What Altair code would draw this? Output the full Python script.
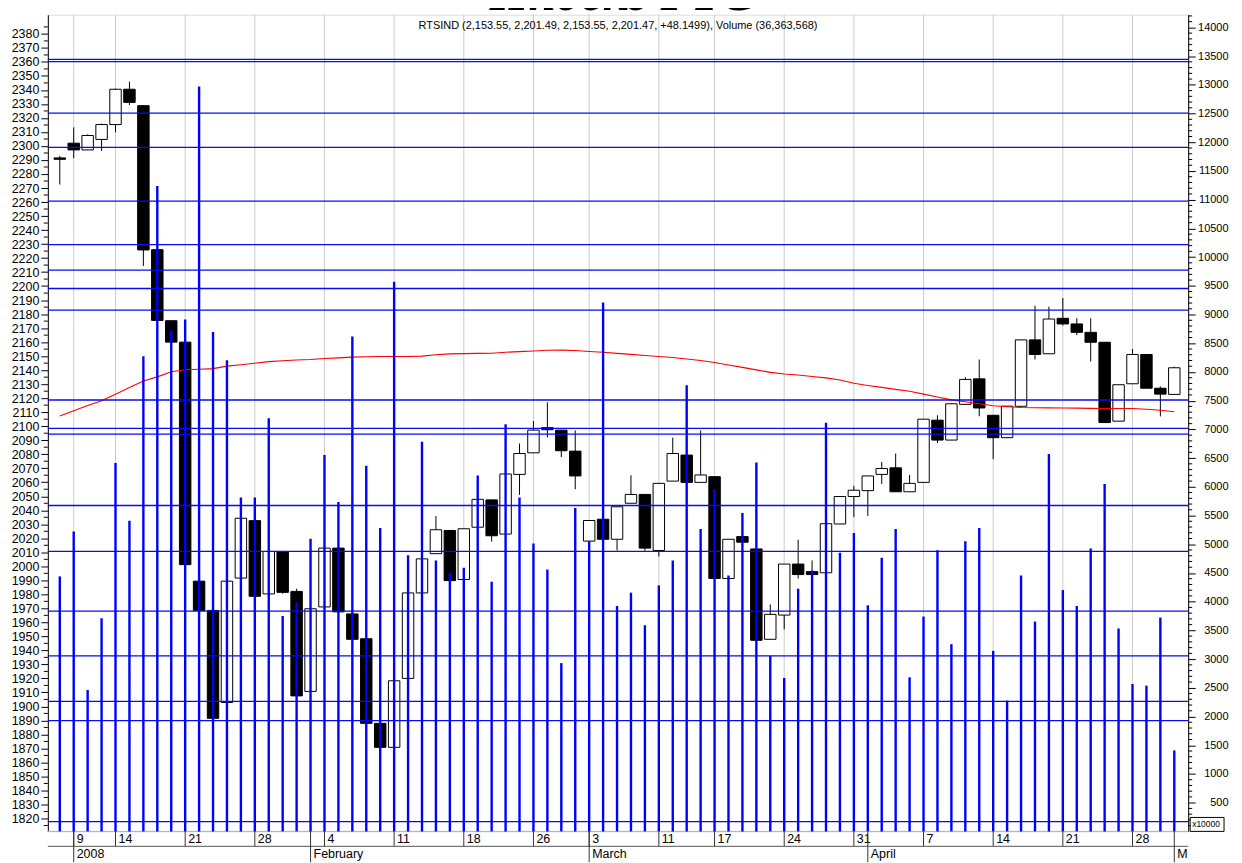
import altair as alt
import pandas as pd

# ---------------- data ----------------
dates = ["2007-12-28",
         "2008-01-09", "2008-01-10", "2008-01-11",
         "2008-01-14", "2008-01-15", "2008-01-16", "2008-01-17", "2008-01-18",
         "2008-01-21", "2008-01-22", "2008-01-23", "2008-01-24", "2008-01-25",
         "2008-01-28", "2008-01-29", "2008-01-30", "2008-01-31", "2008-02-01",
         "2008-02-04", "2008-02-05", "2008-02-06", "2008-02-07", "2008-02-08",
         "2008-02-11", "2008-02-12", "2008-02-13", "2008-02-14", "2008-02-15",
         "2008-02-18", "2008-02-19", "2008-02-20", "2008-02-21", "2008-02-22",
         "2008-02-26", "2008-02-27", "2008-02-28", "2008-02-29",
         "2008-03-03", "2008-03-04", "2008-03-05", "2008-03-06", "2008-03-07",
         "2008-03-11", "2008-03-12", "2008-03-13", "2008-03-14",
         "2008-03-17", "2008-03-18", "2008-03-19", "2008-03-20", "2008-03-21",
         "2008-03-24", "2008-03-25", "2008-03-26", "2008-03-27", "2008-03-28",
         "2008-03-31", "2008-04-01", "2008-04-02", "2008-04-03", "2008-04-04",
         "2008-04-07", "2008-04-08", "2008-04-09", "2008-04-10", "2008-04-11",
         "2008-04-14", "2008-04-15", "2008-04-16", "2008-04-17", "2008-04-18",
         "2008-04-21", "2008-04-22", "2008-04-23", "2008-04-24", "2008-04-25",
         "2008-04-28", "2008-04-29", "2008-04-30",
         "2008-05-05"]

opens = [2291.5, 2302.0, 2297.2, 2304.7, 2315.3, 2340.5, 2328.8, 2226.0, 2175.3, 2160.0,
         1989.4, 1968.5, 1902.8, 1991.6, 2032.6, 1980.3, 2010.6, 1982.1, 1910.7, 1971.0,
         2013.0, 1966.0, 1948.3, 1887.9, 1870.8, 1920.0, 1981.0, 2009.0, 2025.6, 1990.6,
         2027.9, 2047.4, 2023.0, 2065.6, 2081.0, 2099.0, 2097.2, 2082.2, 2018.0, 2033.6,
         2019.3, 2045.0, 2051.3, 2011.3, 2060.8, 2079.4, 2059.9, 2064.0, 1991.3, 2021.2,
         2012.4, 1947.9, 1965.2, 2001.6, 1996.2, 1995.4, 2030.2, 2049.8, 2054.0, 2065.6,
         2070.3, 2053.2, 2059.9, 2104.3, 2090.1, 2115.6, 2133.8, 2107.8, 2091.8, 2114.2,
         2161.6, 2151.7, 2177.0, 2173.0, 2167.0, 2159.9, 2103.6, 2130.3, 2151.2, 2127.1,
         2122.7]

highs = [2293.0, 2313.3, 2308.3, 2316.0, 2341.0, 2345.9, 2328.8, 2226.0, 2175.3, 2160.0,
         1989.4, 1968.5, 1989.4, 2034.3, 2032.6, 2010.6, 2010.6, 1984.0, 1969.7, 2013.0,
         2013.0, 1966.0, 1948.3, 1887.9, 1918.3, 1981.0, 2005.3, 2035.9, 2025.6, 2026.8,
         2047.8, 2047.4, 2065.9, 2087.6, 2103.7, 2117.0, 2097.2, 2097.0, 2032.7, 2033.6,
         2042.5, 2065.0, 2051.3, 2059.2, 2091.8, 2079.4, 2097.0, 2064.0, 2019.3, 2021.2,
         2012.4, 1972.8, 2001.6, 2019.0, 2004.2, 2030.4, 2049.8, 2057.4, 2064.5, 2074.5,
         2080.5, 2065.2, 2105.0, 2107.8, 2116.0, 2135.0, 2147.6, 2107.8, 2114.3, 2161.6,
         2186.0, 2185.3, 2191.5, 2177.1, 2177.0, 2159.9, 2129.6, 2155.1, 2151.2, 2128.4,
         2142.5]

lows = [2272.5, 2291.3, 2297.2, 2296.5, 2309.7, 2329.3, 2214.4, 2175.5, 2160.0, 2001.2,
        1968.5, 1891.5, 1902.8, 1991.6, 1978.6, 1980.3, 1980.4, 1907.5, 1910.7, 1971.0,
        1967.5, 1947.9, 1887.9, 1870.8, 1870.8, 1920.0, 1981.0, 2009.0, 1989.8, 1990.6,
        2027.9, 2017.7, 2023.0, 2051.0, 2081.0, 2092.0, 2078.0, 2055.0, 2018.0, 2019.3,
        2011.3, 2045.0, 2011.0, 2007.0, 2060.8, 2059.9, 2059.9, 1991.3, 1991.3, 2017.2,
        1947.2, 1947.9, 1955.0, 1991.3, 1994.1, 1995.4, 2030.2, 2035.1, 2036.0, 2058.8,
        2053.2, 2053.2, 2059.9, 2088.0, 2090.1, 2115.6, 2107.1, 2076.5, 2091.8, 2114.2,
        2147.6, 2151.7, 2171.8, 2165.0, 2146.2, 2102.6, 2103.6, 2130.3, 2127.1, 2107.0,
        2122.7]

closes = [2290.5, 2297.2, 2307.5, 2315.3, 2340.5, 2331.1, 2225.8, 2175.5, 2160.0, 2001.2,
          1968.5, 1891.5, 1989.4, 2034.3, 1978.6, 2010.6, 1981.4, 1907.5, 1969.7, 2013.0,
          1967.5, 1947.9, 1887.9, 1870.8, 1918.3, 1981.0, 2005.3, 2026.1, 1989.8, 2026.8,
          2047.8, 2021.8, 2065.9, 2080.5, 2097.2, 2097.5, 2082.5, 2064.5, 2032.7, 2019.3,
          2042.5, 2051.3, 2013.0, 2059.2, 2080.5, 2059.9, 2065.2, 1991.3, 2019.3, 2017.2,
          1947.2, 1965.7, 2001.6, 1994.1, 1994.1, 2030.4, 2049.8, 2054.3, 2064.5, 2069.8,
          2053.2, 2059.2, 2105.0, 2090.1, 2116.0, 2133.4, 2113.0, 2091.8, 2114.3, 2161.6,
          2151.2, 2176.5, 2173.0, 2167.0, 2159.9, 2102.6, 2129.6, 2151.2, 2127.1, 2122.9,
          2141.7]

# volume in units of 10,000
volumes = [4440, 5220, 2463, 3711, 6417, 5411, 8273, 11238, 8724, 8914,
           12973, 8694, 8203, 5815, 5815, 7192, 3751, 3984, 5094, 6556,
           5735, 8619, 6365, 5284, 9573, 4809, 6786, 4717, 4504, 4591,
           6197, 4348, 7088, 5815, 5012, 4561, 2931, 5631, 5052, 9209,
           3925, 4157, 3590, 4284, 4717, 7770, 5267, 5961, 4457, 5545,
           6422, 3058, 2671, 4226, 4544, 7116, 4851, 5198, 3937, 4764,
           5267, 2683, 3741, 4896, 3260, 5052, 5284, 3144, 2277, 4457,
           3654, 6573, 4202, 3925, 4925, 6047, 3533, 2567, 2538, 3723,
           1410]

moving_avg = [2107.3, 2111.0, 2114.7, 2118.2, 2122.8, 2127.6, 2132.3, 2135.2, 2138.9, 2140.3,
              2140.7, 2141.1, 2142.9, 2143.9, 2144.9, 2146.1, 2146.7, 2147.2, 2147.6, 2148.3,
              2148.8, 2149.3, 2149.6, 2149.7, 2149.8, 2149.8, 2150.0, 2151.0, 2151.6, 2151.8,
              2152.0, 2152.1, 2152.8, 2153.2, 2153.7, 2154.2, 2154.3, 2154.0, 2153.3, 2152.8,
              2152.0, 2151.3, 2150.5, 2149.8, 2149.0, 2148.0, 2146.9, 2145.5, 2143.7, 2142.0,
              2140.2, 2138.4, 2137.3, 2136.6, 2135.5, 2134.5, 2133.0, 2130.6, 2129.1, 2127.7,
              2126.3, 2124.9, 2122.9, 2120.8, 2118.8, 2117.4, 2116.0, 2114.6, 2113.9, 2113.4,
              2113.2, 2113.1, 2113.0, 2112.9, 2112.7, 2112.6, 2112.6, 2112.6, 2112.1, 2111.4,
              2110.3]

price_levels = [2361.8, 2360.2, 2323.4, 2299.0, 2260.6, 2229.6, 2211.4, 2198.3, 2182.9,
                2118.7, 2098.4, 2094.3, 2043.4, 2010.7, 1968.0, 1936.1, 1903.6, 1889.9,
                1817.7]

week_tick_idx = [1, 4, 9, 14, 19, 24, 29, 34, 38, 43, 47, 52, 57, 62, 67, 72, 77]
week_tick_labels = ["9", "14", "21", "28", "4", "11", "18", "26", "3", "11", "17",
                    "24", "31", "7", "14", "21", "28"]
month_tick_idx = [1, 18, 38, 58, 80]
month_tick_labels = ["2008", "February", "March", "April", "May"]

price_tick_values = list(range(1820, 2381, 10))
price_minor_values = [v for v in range(1815, 2391, 5) if v % 10 != 0]
vol_tick_values = list(range(500, 14001, 500))
vol_minor_values = [v for v in range(100, 14201, 100) if v % 500 != 0]

chart_title = "Индекс РТС"
subtitle = "RTSIND (2,153.55, 2,201.49, 2,153.55, 2,201.47, +48.1499), Volume (36,363,568)"

n = len(dates)
assert all(len(a) == n for a in [opens, highs, lows, closes, volumes, moving_avg])

# ---------------- tables ----------------
df = pd.DataFrame({
    "idx": list(range(n)), "date": dates, "open": opens, "high": highs,
    "low": lows, "close": closes, "volume": volumes, "ma": moving_avg,
})
weeks = pd.DataFrame({"idx": week_tick_idx, "label": week_tick_labels})
months = pd.DataFrame({"idx": month_tick_idx, "label": month_tick_labels})
levels = pd.DataFrame({"level": price_levels})
pminor = pd.DataFrame({"v": price_minor_values})
vminor = pd.DataFrame({"v": vol_minor_values})

W, H = 1145, 820
FONT = "Liberation Sans"

xs = alt.Scale(domain=[-0.5, 80.64], nice=False, zero=False)
ps = alt.Scale(domain=[1810.8, 2393.7], nice=False, zero=False)
vs = alt.Scale(domain=[0, 14221], nice=False, zero=False)

price_axis = alt.Axis(orient="left", values=price_tick_values, title=None, grid=False,
                      format="d",
                      tickSize=7, tickColor="black", domainColor="black",
                      labelFont=FONT, labelFontSize=12.5, labelColor="black",
                      labelPadding=2, labelOverlap=False, labelFlush=False)
vol_axis = alt.Axis(orient="right", values=vol_tick_values, title=None, grid=False,
                    format="d",
                    tickSize=7, tickColor="black", domainColor="black",
                    labelFont=FONT, labelFontSize=11, labelColor="black",
                    labelAlign="right", labelPadding=33, labelOverlap=False,
                    labelFlush=False)


def X(field):
    return alt.X(field, type="quantitative", scale=xs, axis=None)


def PY(field):
    return alt.Y(field, type="quantitative", scale=ps, axis=price_axis)


base = alt.Chart(df)

grid = alt.Chart(weeks).mark_rule(color="#cccccc", strokeWidth=1).encode(x=X("idx"))

bottom_line = alt.Chart(levels.head(1)).mark_rule(color="#b0b0b0").encode(
    x=alt.value(0), x2=alt.value(W), y=alt.value(H))

wicks = base.mark_rule(color="black", strokeWidth=1).encode(
    x=X("idx"), y=PY("low"), y2="high")

bodies = base.mark_bar(size=11.5, stroke="black", strokeWidth=1).encode(
    x=X("idx"), y=PY("open"), y2="close",
    fill=alt.condition("datum.close >= datum.open", alt.value("white"), alt.value("black")))

ma_line = base.mark_line(color="#ff0000", strokeWidth=1.1).encode(
    x=X("idx"), y=PY("ma"))

level_lines = alt.Chart(levels).mark_rule(color="#0a0af5", strokeWidth=1.3).encode(
    y=PY("level"))

price_minor = alt.Chart(pminor).mark_rule(color="black").encode(
    y=PY("v"), x=alt.value(-4), x2=alt.value(0))

# x-axis rows drawn below the plot
week_ticks = alt.Chart(weeks).mark_rule(color="#333333").encode(
    x=X("idx"), y=alt.value(H), y2=alt.value(H + 15))
week_labels = alt.Chart(weeks).mark_text(
    align="left", baseline="middle", dx=3, font=FONT, fontSize=12.5, color="black").encode(
    x=X("idx"), y=alt.value(H + 8), text="label")
separator = alt.Chart(levels.head(1)).mark_rule(color="#555555").encode(
    x=alt.value(0), x2=alt.value(W), y=alt.value(H + 15))
month_ticks = alt.Chart(months).mark_rule(color="#333333").encode(
    x=X("idx"), y=alt.value(H), y2=alt.value(H + 31))
month_labels = alt.Chart(months.iloc[:-1]).mark_text(
    align="left", baseline="middle", dx=3, font=FONT, fontSize=12.5, color="black").encode(
    x=X("idx"), y=alt.value(H + 23), text="label")
# the last month label is cut at the plot's right edge in the reference
month_last = alt.Chart(months.iloc[-1:]).mark_text(
    align="left", baseline="middle", dx=3, font=FONT, fontSize=12.5, color="black",
    limit=14.5, ellipsis=" ").encode(
    x=X("idx"), y=alt.value(H + 23), text="label")

# big title, cut off by the top edge of the page as in the reference
title_mark = alt.Chart(pd.DataFrame({"t": [chart_title]})).mark_text(
    align="center", baseline="alphabetic", font="Liberation Serif", fontSize=50,
    fontStyle="italic", fontWeight="bold", color="black").encode(
    x=alt.value(W / 2 + 4), y=alt.value(-5), text="t")
subtitle_mark = alt.Chart(pd.DataFrame({"t": [subtitle]})).mark_text(
    align="center", baseline="middle", font=FONT, fontSize=11, color="black").encode(
    x=alt.value(W / 2), y=alt.value(11), text="t")

price_group = alt.layer(
    grid, bottom_line, wicks, bodies, ma_line, level_lines, price_minor,
    week_ticks, week_labels, separator, month_ticks, month_labels, month_last,
    title_mark, subtitle_mark,
)

vol_bars = base.mark_rule(color="#0000ff", strokeWidth=2.4).encode(
    x=X("idx"),
    y=alt.Y("volume", type="quantitative", scale=vs, axis=vol_axis),
    y2=alt.datum(0))
vol_minor = alt.Chart(vminor).mark_rule(color="black").encode(
    y=alt.Y("v", type="quantitative", scale=vs, axis=vol_axis),
    x=alt.value(W), x2=alt.value(W + 4))
unit_box = alt.Chart(pd.DataFrame({"t": ["x10000"]})).mark_rect(
    fill="white", stroke="black", strokeWidth=1).encode(
    x=alt.value(W + 2), x2=alt.value(W + 36), y=alt.value(H - 14), y2=alt.value(H))
unit_text = alt.Chart(pd.DataFrame({"t": ["x10000"]})).mark_text(
    align="left", baseline="middle", font=FONT, fontSize=8.5, color="black").encode(
    x=alt.value(W + 4), y=alt.value(H - 7), text="t")

vol_group = alt.layer(vol_bars, vol_minor, unit_box, unit_text)

chart = alt.layer(price_group, vol_group).resolve_scale(y="independent").properties(
    width=W, height=H,
    autosize=alt.AutoSizeParams(type="none"),
    padding={"left": 40, "top": 5, "right": 46, "bottom": 30},
).configure_view(stroke=None).configure(background="white")

chart.save("out.html", embed_options={"renderer": "svg", "actions": False})
